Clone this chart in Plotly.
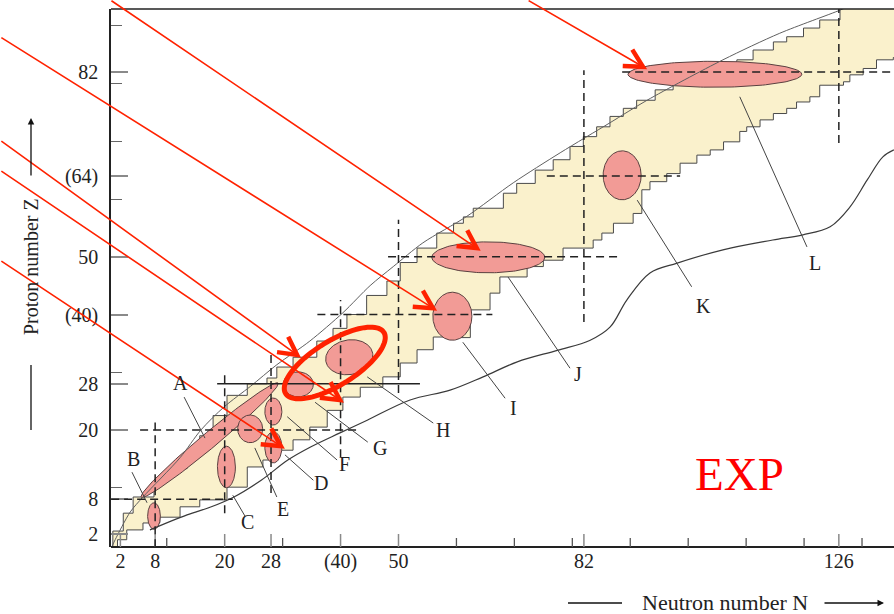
import numpy as np
import plotly.graph_objects as go

# ---------------- axis ticks ----------------
x_tick_vals = [2, 8, 20, 28, 40, 50, 82, 126]
x_tick_text = ["2", "8", "20", "28", "(40)", "50", "82", "126"]
x_minor_vals = [10, 30, 60, 70, 80, 90, 100, 110, 120, 130]
y_tick_vals = [2, 8, 20, 28, 40, 50, 64, 82]
y_tick_text = ["2", "8", "20", "28", "(40)", "50", "(64)", "82"]
y_minor_vals = [10, 30, 60, 70, 80, 90]

# ---------------- band of known nuclei (staircase edges) ----------------
upper_N = [0.4, 0.7, 2.5, 4.2, 7.8, 10.0, 13.5, 15.7, 18.0, 20.4, 23.9, 27.3, 29.0, 31.8,
           35.9, 38.7, 41.1, 44.5, 48.0, 50.3, 53.2, 56.6, 59.5, 61.2, 62.9, 68.1, 70.4,
           73.6, 76.7, 79.6, 81.9, 84.2, 86.5, 88.8, 91.1, 94.3, 97.4, 108.4, 111.2,
           114.7, 117.0, 119.9, 122.7, 126.2, 126.2, 138.0]
upper_Z = [-0.3, 2.5, 5.6, 8.4, 11.0, 13.3, 16.2, 19.0, 22.5, 26.0, 28.0, 29.0, 30.9, 32.6,
           35.4, 37.6, 40.0, 43.3, 45.8, 49.0, 51.5, 54.1, 55.8, 56.9, 58.4, 61.0, 62.7,
           65.0, 66.8, 69.1, 70.8, 72.5, 74.3, 75.7, 77.1, 78.9, 79.7, 84.1, 85.8,
           87.2, 88.1, 89.6, 91.0, 92.7, 96.0, 96.0]
lower_N = [1.5, 3.1, 5.9, 8.8, 12.3, 15.7, 20.4, 23.9, 26.6, 29.0, 31.8, 34.7, 37.7, 40.4,
           43.4, 47.3, 50.3, 53.2, 56.0, 58.4, 62.4, 65.8, 67.5, 72.2, 75.0, 78.4, 83.6,
           85.1, 87.1, 90.5, 92.0, 93.4, 96.3, 98.6, 101.5, 103.8, 106.1, 108.9, 110.1,
           112.4, 114.7, 117.0, 118.7, 121.0, 122.7, 126.8, 127.9, 130.2, 132.5, 135.4,
           138.0]
lower_Z = [-0.3, 1.0, 2.7, 3.9, 4.9, 6.7, 7.9, 10.1, 13.6, 14.8, 16.5, 18.3, 20.5, 23.4,
           25.7, 27.4, 29.2, 31.6, 33.9, 36.1, 36.0, 40.8, 43.7, 46.5, 48.3, 49.4, 51.5,
           52.9, 54.1, 55.8, 57.5, 61.6, 63.0, 64.4, 66.2, 67.6, 68.5, 69.9, 71.7,
           72.5, 73.7, 74.8, 75.7, 76.8, 77.7, 79.7, 80.3, 81.5, 82.6, 84.1,
           84.5]

# smooth proton-rich limit curve
curve_up_N = [0.5, 1.1, 3.7, 5.9, 12.3, 15.9, 19.9, 24.5, 29.0, 34.7, 40.4, 45.1, 49.1,
              54.2, 61.8, 69.8, 77.9, 86.5, 92.9, 106.0, 115.8, 126.2, 128.0]
curve_up_Z = [-0.3, 1.0, 5.8, 8.4, 15.2, 20.0, 24.0, 27.6, 31.3, 35.4, 40.3, 45.0, 48.3,
              52.4, 57.0, 62.8, 68.0, 73.2, 77.1, 84.1, 88.7, 92.7, 93.5]

# wavy neutron-rich curve
curve_lo_N = [7.1, 13.5, 17.7, 21.6, 26.3, 30.9, 34.9, 39.9, 44.6, 52.0, 58.9, 64.6, 70.5,
              77.4, 83.0, 86.5, 89.4, 93.4, 98.1, 106.0, 114.6, 119.8, 124.5, 127.9,
              130.9, 133.6, 135.5]
curve_lo_Z = [2.7, 5.3, 6.7, 8.4, 11.3, 14.8, 17.1, 19.5, 21.7, 25.2, 26.9, 29.2, 31.8,
              33.8, 35.5, 37.8, 42.5, 47.2, 48.9, 51.2, 52.9, 53.8, 55.2, 58.6,
              63.3, 67.3, 68.5]

# ---------------- magic-number guide lines ----------------
v_line_N = [8, 20, 28, 40, 50, 82, 126]
v_line_Z0 = [-0.3, 5.6, 9.1, 15.3, 26.4, 38.7, 69.7]
v_line_Z1 = [21.3, 29.5, 33.3, 42.5, 56.4, 82.3, 93.0]
h_line_Z = [8, 20, 28, 40, 50, 64, 82]
h_line_N0 = [0.4, 5.4, 18.7, 36.0, 48.2, 75.6, 88.6]
h_line_N1 = [21.4, 42.8, 53.7, 66.2, 88.2, 98.6, 136.0]

# ---------------- regions (ellipses) ----------------
ell_N = [17.4, 7.8, 20.3, 28.4, 24.4, 28.4, 32.7, 41.5, 59.3, 65.5, 88.6, 104.6]
ell_Z = [18.25, 5.1, 13.6, 17.0, 20.2, 23.2, 27.9, 32.6, 39.7, 49.9, 64.1, 81.6]
ell_rN = [15.4, 1.1, 1.55, 1.47, 2.16, 1.47, 2.6, 4.1, 3.37, 9.75, 3.28, 15.0]
ell_rZ = [1.35, 2.3, 3.6, 2.7, 2.4, 2.34, 2.16, 3.0, 4.16, 2.68, 4.24, 2.25]
ell_ang = [39.9, 0, 0, 0, 0, 0, 0, 10, 0, 0, 0, 0]

# ---------------- labels and leader lines ----------------
label_text = ["A", "B", "C", "D", "E", "F", "G", "H", "I", "J", "K", "L"]
label_N = [12.3, 4.2, 24.0, 36.6, 30.1, 40.6, 46.8, 57.7, 69.8, 81.0, 102.6, 121.9]
label_Z = [28.1, 15.0, 4.1, 10.8, 6.3, 14.1, 16.9, 20.0, 23.8, 29.7, 41.5, 48.9]
lead_N0 = [13.0, 4.0, 23.5, 35.3, 29.0, 39.4, 44.7, 56.0, 68.4, 79.6, 100.6, 120.5]
lead_Z0 = [25.7, 12.7, 5.1, 11.3, 8.4, 14.8, 17.9, 21.2, 25.5, 30.7, 44.8, 51.7]
lead_N1 = [16.6, 6.6, 21.4, 30.4, 25.2, 30.8, 35.6, 44.6, 61.1, 68.9, 91.2, 108.9]
lead_Z1 = [18.6, 7.4, 8.7, 15.7, 16.9, 22.3, 24.8, 29.2, 35.2, 46.5, 59.8, 77.7]

# ---------------- red highlight arrows ----------------
arrow_tail_N = [72.2, 0.2, -18.8, -18.8, -18.8, -18.8]
arrow_tail_Z = [94.5, 94.5, 88.1, 70.2, 65.0, 49.4]
arrow_tip_N = [92.2, 63.5, 55.95, 32.5, 39.9, 29.7]
arrow_tip_Z = [82.9, 51.5, 41.1, 33.0, 25.2, 17.2]
ring = dict(N=39.0, Z=31.6, a=10.0, b=3.8, ang=32)

# ---------------- geometry helpers ----------------
X_RANGE = [0.38, 135.52]
Y_RANGE = [-0.26, 92.9]
PLOT_L, PLOT_R, PLOT_T, PLOT_B = 111, 894, 9, 547
PLOT_H = PLOT_B - PLOT_T


def px2paper(px, py):
    return (px - PLOT_L) / (PLOT_R - PLOT_L), (PLOT_B - py) / PLOT_H


def ellipse_pts(cn, cz, a, b, ang, n=160):
    t = np.linspace(0, 2 * np.pi, n)
    r = np.deg2rad(ang)
    xs = cn + a * np.cos(t) * np.cos(r) - b * np.sin(t) * np.sin(r)
    ys = cz + a * np.cos(t) * np.sin(r) + b * np.sin(t) * np.cos(r)
    return xs, ys


SERIF = "Liberation Serif"
RED = "#FF2200"
PINK = "#F29B96"
YELLOW = "#FAF1CC"

fig = go.Figure()

# band
band_x = upper_N + lower_N[::-1]
band_y = upper_Z + lower_Z[::-1]
fig.add_trace(go.Scatter(x=band_x, y=band_y, mode="lines", fill="toself",
                         fillcolor=YELLOW, line=dict(color="#4a4a4a", width=1, shape="hv"),
                         hoverinfo="skip"))

# ellipses
for cn, cz, a, b, ang in zip(ell_N, ell_Z, ell_rN, ell_rZ, ell_ang):
    xs, ys = ellipse_pts(cn, cz, a, b, ang)
    fig.add_trace(go.Scatter(x=xs, y=ys, mode="lines", fill="toself", fillcolor=PINK,
                             line=dict(color="#5a4040", width=1), hoverinfo="skip"))

# curves
fig.add_trace(go.Scatter(x=curve_up_N, y=curve_up_Z, mode="lines",
                         line=dict(color="#606060", width=1, shape="spline", smoothing=0.8),
                         hoverinfo="skip"))
fig.add_trace(go.Scatter(x=curve_lo_N, y=curve_lo_Z, mode="lines",
                         line=dict(color="#3a3a3a", width=1.2, shape="spline", smoothing=1.0),
                         hoverinfo="skip"))

shapes = []
# frame: bottom axis line and top border line
shapes.append(dict(type="line", xref="paper", yref="paper", x0=0, x1=1, y0=0, y1=0,
                   line=dict(color="#222", width=1.8), layer="above"))
shapes.append(dict(type="line", xref="paper", yref="paper", x0=0, x1=1, y0=1, y1=1,
                   line=dict(color="#222", width=1.5), layer="above"))
# bottom-axis ticks
for v in x_tick_vals:
    shapes.append(dict(type="line", xref="x", yref="paper", x0=v, x1=v, y0=0, y1=13 / PLOT_H,
                       line=dict(color="#8a8a8a", width=1.5), layer="above"))
for v in x_minor_vals:
    shapes.append(dict(type="line", xref="x", yref="paper", x0=v, x1=v, y0=0, y1=9 / PLOT_H,
                       line=dict(color="#555", width=1.3), layer="above"))

# guide lines
for n, z0, z1 in zip(v_line_N, v_line_Z0, v_line_Z1):
    shapes.append(dict(type="line", xref="x", yref="y", x0=n, x1=n, y0=z0, y1=z1,
                       line=dict(color="#222", width=1.5, dash="8px,5px"), layer="above"))
for z, n0, n1 in zip(h_line_Z, h_line_N0, h_line_N1):
    shapes.append(dict(type="line", xref="x", yref="y", x0=n0, x1=n1, y0=z, y1=z,
                       line=dict(color="#222", width=1.5,
                                 dash="solid" if z == 28 else "8px,5px"), layer="above"))
# leader lines
for n0, z0, n1, z1 in zip(lead_N0, lead_Z0, lead_N1, lead_Z1):
    shapes.append(dict(type="line", xref="x", yref="y", x0=n0, x1=n1, y0=z0, y1=z1,
                       line=dict(color="#444", width=1), layer="above"))

# red ring
rx, ry = ellipse_pts(ring["N"], ring["Z"], ring["a"], ring["b"], ring["ang"], n=90)
ring_path = "M " + " L ".join(f"{x:.3f},{y:.3f}" for x, y in zip(rx, ry)) + " Z"
shapes.append(dict(type="path", xref="x", yref="y", path=ring_path,
                   line=dict(color=RED, width=5), layer="above"))

# chevron heads
ARM = 3.5
TH = np.deg2rad(28)
for sn, sz, tn, tz in zip(arrow_tail_N, arrow_tail_Z, arrow_tip_N, arrow_tip_Z):
    dn, dz = sn - tn, sz - tz
    L = np.hypot(dn, dz)
    un, uz = dn / L, dz / L
    pts = []
    for th in (TH, -TH):
        rn = un * np.cos(th) - uz * np.sin(th)
        rz = un * np.sin(th) + uz * np.cos(th)
        pts.append((tn + ARM * rn, tz + ARM * rz))
    path = f"M {pts[0][0]:.3f},{pts[0][1]:.3f} L {tn},{tz} L {pts[1][0]:.3f},{pts[1][1]:.3f}"
    shapes.append(dict(type="path", xref="x", yref="y", path=path,
                       line=dict(color=RED, width=4.5), layer="above"))

# axis-title decorations (paper coords)
ya, yb = px2paper(31, 365), px2paper(31, 430)
shapes.append(dict(type="line", xref="paper", yref="paper", x0=ya[0], x1=yb[0], y0=ya[1], y1=yb[1],
                   line=dict(color="#111", width=1.3)))
xa, xb = px2paper(568, 603), px2paper(622, 603)
shapes.append(dict(type="line", xref="paper", yref="paper", x0=xa[0], x1=xb[0], y0=xa[1], y1=xb[1],
                   line=dict(color="#111", width=1.3)))

annotations = []
# red lines (unclipped annotations)
for sn, sz, tn, tz in zip(arrow_tail_N, arrow_tail_Z, arrow_tip_N, arrow_tip_Z):
    annotations.append(dict(x=tn, y=tz, xref="x", yref="y", ax=sn, ay=sz, axref="x", ayref="y",
                            text="", showarrow=True, arrowhead=0, arrowwidth=1.6,
                            arrowcolor=RED, standoff=0, startstandoff=0))
# region labels
for t, n, z in zip(label_text, label_N, label_Z):
    annotations.append(dict(x=n, y=z, xref="x", yref="y", text=t, showarrow=False,
                            xanchor="center", yanchor="middle",
                            font=dict(family=SERIF, size=20, color="#222")))
# EXP
annotations.append(dict(x=108.8, y=12.4, xref="x", yref="y", text="EXP", showarrow=False,
                        xanchor="center", yanchor="middle",
                        font=dict(family=SERIF, size=47, color="#FF0000")))
# axis titles
p = px2paper(31, 267)
annotations.append(dict(x=p[0], y=p[1], xref="paper", yref="paper", text="Proton number Z",
                        textangle=-90, showarrow=False, xanchor="center", yanchor="middle",
                        font=dict(family=SERIF, size=20, color="#222")))
p = px2paper(31, 118)
annotations.append(dict(x=p[0], y=p[1], xref="paper", yref="paper", text="", showarrow=True,
                        ax=0, ay=59, arrowhead=2, arrowsize=1, arrowwidth=1.3, arrowcolor="#111"))
p = px2paper(724.5, 603)
annotations.append(dict(x=p[0], y=p[1], xref="paper", yref="paper", text="Neutron number N",
                        showarrow=False, xanchor="center", yanchor="middle",
                        font=dict(family=SERIF, size=22, color="#222")))
p = px2paper(884, 603)
annotations.append(dict(x=p[0], y=p[1], xref="paper", yref="paper", text="", showarrow=True,
                        ax=-61, ay=0, arrowhead=2, arrowsize=1, arrowwidth=1.3, arrowcolor="#111"))

tickfont = dict(family=SERIF, size=20, color="#222")
fig.update_layout(
    width=894, height=614, autosize=False,
    margin=dict(l=PLOT_L, r=894 - PLOT_R, t=PLOT_T, b=614 - PLOT_B),
    plot_bgcolor="white", paper_bgcolor="white", showlegend=False,
    shapes=shapes, annotations=annotations,
    xaxis=dict(range=X_RANGE, showgrid=False, zeroline=False, showline=False,
               ticks="", tickvals=x_tick_vals, ticktext=x_tick_text,
               tickfont=tickfont, ticklabelstandoff=0),
    yaxis=dict(range=Y_RANGE, showgrid=False, zeroline=False, showline=True,
               linecolor="#222", linewidth=1.5, mirror=False, ticks="inside",
               tickvals=y_tick_vals, ticktext=y_tick_text, ticklen=17, tickwidth=1.5,
               tickcolor="#8a8a8a", tickfont=tickfont, ticklabelstandoff=7,
               minor=dict(tickvals=y_minor_vals, ticks="inside", ticklen=11,
                          tickwidth=1.3, tickcolor="#666", showgrid=False)),
)

fig.write_html("out.html", config={"displayModeBar": False},
               post_script="document.body.style.margin='0px';document.body.style.overflow='hidden';")
